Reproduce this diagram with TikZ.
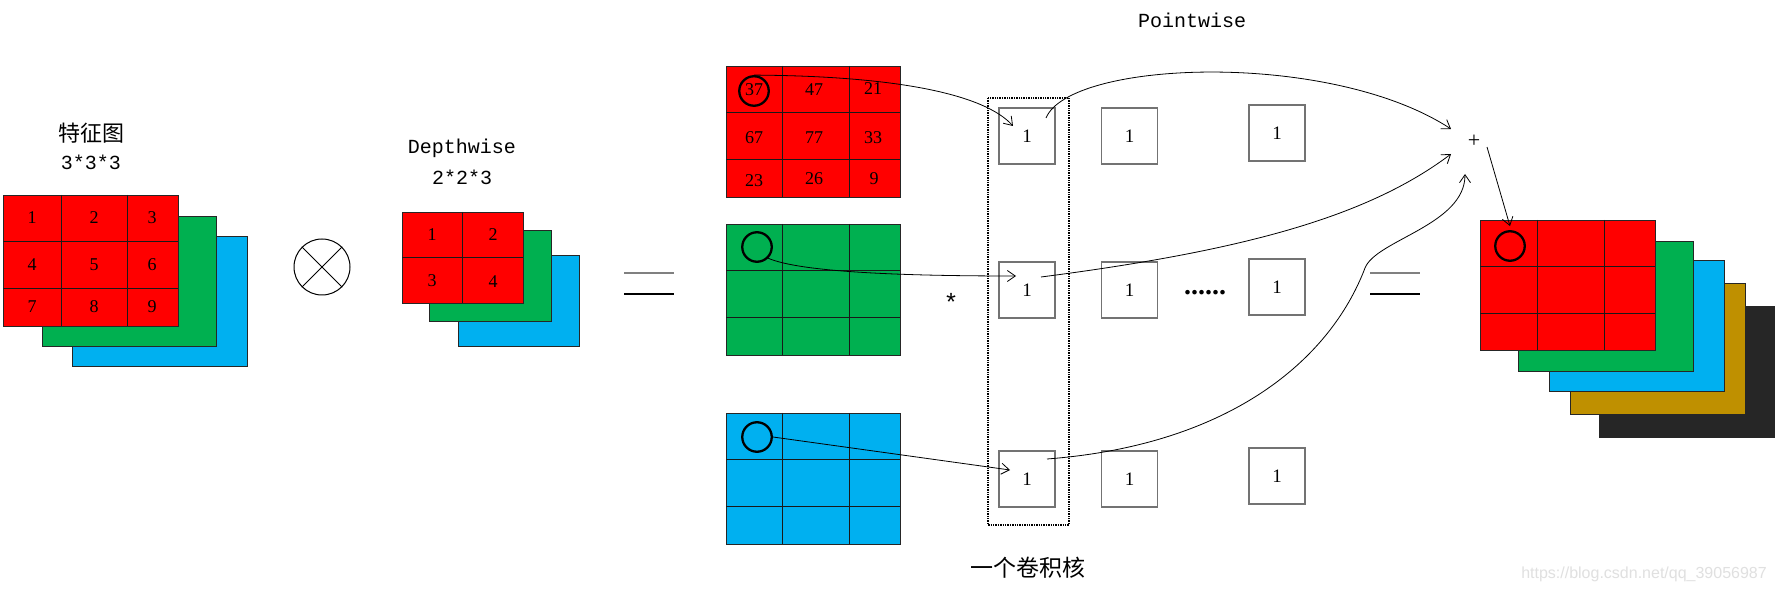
\documentclass[tikz,border=0pt]{standalone}
\usepackage{fontspec}
\setmainfont{Liberation Serif}
\setmonofont{Liberation Mono}
\newfontfamily\cjk{Noto Sans CJK SC}
\newfontfamily\wmfont{Liberation Sans}
\usetikzlibrary{calc,arrows.meta}
\definecolor{mapred}{RGB}{255,0,0}
\definecolor{mapgreen}{RGB}{0,176,80}
\definecolor{mapblue}{RGB}{0,176,240}
\definecolor{mapgold}{RGB}{191,144,0}
\definecolor{mapdark}{RGB}{38,38,38}
\tikzset{
  sheet/.style={draw=black!85,line width=0.8pt},
  grid/.style={draw=black!90,line width=0.8pt},
  num/.style={font=\fontsize{18}{20}\selectfont},
  lbl/.style={font=\ttfamily\fontsize{20}{22}\selectfont},
  cn/.style={font=\cjk\fontsize{22}{24}\selectfont},
  ring/.style={circle,draw,line width=2.3pt,minimum size=29.5pt,inner sep=0pt},
  kbox/.style={draw=black!55,line width=1.3pt,minimum size=56pt,inner sep=0pt,font=\fontsize{19}{20}\selectfont},
  eqbar/.style={line width=1.2pt}
}
\begin{document}
\begin{tikzpicture}[>={Straight Barb[length=8pt,width=11pt]},x=1pt,y=-1pt,line width=0.8pt]
\path[use as bounding box,fill=white](0,0)rectangle(1775,593);

% feature map 3*3*3
\fill[mapblue,sheet](72,236)rectangle(247,366);
\fill[mapgreen,sheet](42,216)rectangle(216,346);
\fill[mapred,sheet](3,195)rectangle(178,326);
\draw[grid](61,195)--(61,326)(127,195)--(127,326)(3,241)--(178,241)(3,288)--(178,288);
\foreach \y[count=\r] in {218,265,307}
\foreach \x[count=\c] in {32,94,152}
{\pgfmathtruncatemacro\n{(\r-1)*3+\c}
\node(f\n)[num]at(\x,\y){\n};}
\node(fmname)[cn]at(91,133){特征图};
\node(fmsize)[lbl]at(91,162){3*3*3};

\node(op)[circle,draw,line width=1pt,minimum size=56pt,inner sep=0pt]at(322,267){};
\draw[line width=1pt](op.north east)--(op.south west)(op.north west)--(op.south east);

% depthwise kernel 2*2*3
\fill[mapblue,sheet](458,255)rectangle(579,346);
\fill[mapgreen,sheet](429,230)rectangle(551,321);
\fill[mapred,sheet](402,212)rectangle(523,303);
\draw[grid](462,212)--(462,303)(402,257)--(523,257);
\foreach \t/\x/\y in {1/432/235,2/493/235,3/432/281,4/493/282}
{\node(d\t)[num]at(\x,\y){\t};}
\node(dwname)[lbl]at(462,148){Depthwise};
\node(dwsize)[lbl]at(462,177){2*2*3};

\draw[eqbar,gray](624,273)--(674,273);
\draw[eqbar](624,294)--(674,294);

% depthwise outputs
\foreach \col/\top[count=\i] in {mapred/66,mapgreen/224,mapblue/413}
{\fill[\col,sheet](726,\top)rectangle(900,\top+131);
\draw[grid](782,\top)--(782,\top+131)(849,\top)--(849,\top+131)
(726,\top+46)--(900,\top+46)(726,\top+93)--(900,\top+93);}
\foreach \t/\x/\y in {37/754/90,47/814/90,21/873/89,67/754/138,77/814/138,33/873/138,23/754/181,26/814/179,9/874/179}
{\node(r\t)[num]at(\x,\y){\t};}
\node(c1)[ring]at(754,91){};
\node(c2)[ring]at(757,247){};
\node(c3)[ring]at(757,437){};
\node(star)[lbl,font=\ttfamily\fontsize{25}{25}\selectfont]at(951,302){*};

% pointwise kernels
\foreach \x/\y[count=\c] in {1027/136,1129.5/136,1277/133}
\foreach \o[count=\r] in {0,154,343}
{\node(k\c\r)[kbox]at(\x,\y+\o){1};}
\draw[densely dotted,line width=1.4pt](988,98)rectangle(1069,525);
\node(dots)[font=\bfseries\fontsize{28}{28}\selectfont]at(1205,293){......};
\node(pwname)[lbl]at(1192,20){Pointwise};
\node(kname)[cn,font=\cjk\fontsize{23}{24}\selectfont]at(1028,568){一个卷积核};

\draw[->](c1.north)..controls(900,76)and(985,95)..($(k11)+(-14,-10)$);
\draw[->](c2.south east)..controls(800,272)and(900,276)..($(k12)+(-11,-14)$);
\draw[->](c3.east)--($(k13)+(-17,-9)$);

\node(plus)[font=\fontsize{22}{22}\selectfont]at(1474,141){+};
\coordinate(bend)at(1365,268);
\draw[->]($(k11)+(19,-18)$)..controls(1070,60)and(1330,50)..($(plus)+(-23,-12)$);
\draw[->]($(k12)+(14,-13)$)..controls(1250,250)and(1370,215)..($(plus)+(-23,13)$);
\draw[->]($(k13)+(20,-20)$)..controls(1230,445)and(1330,360)..(bend)
..controls(1376,240)and(1465,225)..($(plus)+(-9,33)$);

\draw[eqbar,gray](1370,273)--(1420,273);
\draw[eqbar](1370,294)--(1420,294);

% output maps
\fill[mapdark,sheet](1599,306)rectangle(1775,437);
\fill[mapgold,sheet](1570,283)rectangle(1745,414);
\fill[mapblue,sheet](1549,260)rectangle(1724,391);
\fill[mapgreen,sheet](1518,241)rectangle(1693,371);
\fill[mapred,sheet](1480,220)rectangle(1655,350);
\draw[grid](1537,220)--(1537,350)(1604,220)--(1604,350)(1480,266)--(1655,266)(1480,313)--(1655,313);
\node(oc)[ring]at(1510,246){};
\draw[->]($(plus)+(13,6)$)--($(oc.north)+(0,-4)$);

\node(mark)[font=\wmfont\fontsize{16}{16}\selectfont,text=black!12]at(1644,574){https://blog.csdn.net/qq\_39056987};
\end{tikzpicture}
\end{document}
